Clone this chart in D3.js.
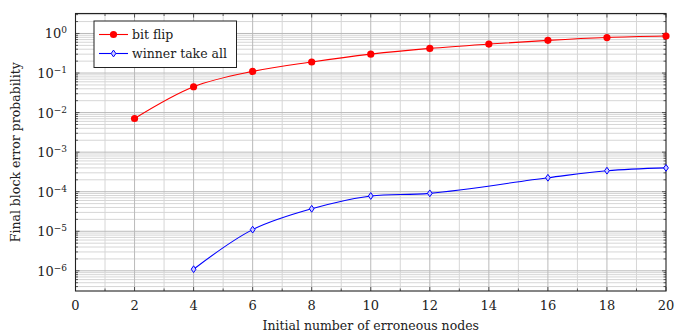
<!DOCTYPE html>
<html>
<head>
<meta charset="utf-8">
<script src="https://cdn.jsdelivr.net/npm/d3@7"></script>
<style>
  body { margin: 0; background: #fff; }
  text { font-family: "DejaVu Serif", serif; fill: #222; }
</style>
</head>
<body>
<svg id="chart" width="675" height="333"></svg>
<script>
// data
const bitFlipX = [2, 4, 6, 8, 10, 12, 14, 16, 18, 20];
const bitFlipY = [0.0071, 0.045, 0.11, 0.19, 0.30, 0.42, 0.54, 0.67, 0.79, 0.86];
const wtaX = [4, 6, 8, 10, 12, 16, 18, 20];
const wtaY = [1.1e-6, 1.1e-5, 3.7e-5, 7.8e-5, 9.1e-5, 2.25e-4, 3.4e-4, 4.0e-4];
const xTicks = [0, 2, 4, 6, 8, 10, 12, 14, 16, 18, 20];
const yExps = [0, -1, -2, -3, -4, -5, -6];
const seriesNames = ["bit flip", "winner take all"];

const margin = {left: 75.5, right: 9, top: 13.5, bottom: 42};
const W = 675, H = 333;

const svg = d3.select("#chart");
const x = d3.scaleLinear().domain([0, 20]).range([margin.left, W - margin.right]);
const y = d3.scaleLog().domain([Math.pow(10, -6.51), Math.pow(10, 0.505)]).range([H - margin.bottom, margin.top]);

// grid
const g = svg.append("g");
const minorX = d3.range(1, 20, 2);
g.selectAll(".mx").data(minorX).enter().append("line")
  .attr("x1", d => x(d)).attr("x2", d => x(d))
  .attr("y1", y.range()[0]).attr("y2", y.range()[1])
  .attr("stroke", "#d6d6d6").attr("stroke-width", 1);
const minorY = [];
for (let e = -7; e <= 0; e++) for (let m = 2; m <= 9; m++) {
  const v = m * Math.pow(10, e);
  if (v > y.domain()[0] && v < y.domain()[1]) minorY.push(v);
}
g.selectAll(".my").data(minorY).enter().append("line")
  .attr("x1", x.range()[0]).attr("x2", x.range()[1])
  .attr("y1", d => y(d)).attr("y2", d => y(d))
  .attr("stroke", "#d6d6d6").attr("stroke-width", 1);
g.selectAll(".Mx").data(xTicks.slice(1, -1)).enter().append("line")
  .attr("x1", d => x(d)).attr("x2", d => x(d))
  .attr("y1", y.range()[0]).attr("y2", y.range()[1])
  .attr("stroke", "#bababa").attr("stroke-width", 1);
g.selectAll(".My").data(yExps).enter().append("line")
  .attr("x1", x.range()[0]).attr("x2", x.range()[1])
  .attr("y1", d => y(Math.pow(10, d))).attr("y2", d => y(Math.pow(10, d)))
  .attr("stroke", "#bababa").attr("stroke-width", 1);

// inward ticks on frame
const tk = svg.append("g").attr("stroke", "#333").attr("stroke-width", 0.8);
xTicks.concat(minorX).forEach(d => {
  const l = xTicks.includes(d) ? 4 : 2.5;
  tk.append("line").attr("x1", x(d)).attr("x2", x(d)).attr("y1", y.range()[0]).attr("y2", y.range()[0] - l);
  tk.append("line").attr("x1", x(d)).attr("x2", x(d)).attr("y1", y.range()[1]).attr("y2", y.range()[1] + l);
});
minorY.concat(yExps.map(e => Math.pow(10, e))).forEach(d => {
  const l = minorY.includes(d) ? 2.5 : 4;
  tk.append("line").attr("y1", y(d)).attr("y2", y(d)).attr("x1", x.range()[0]).attr("x2", x.range()[0] + l);
  tk.append("line").attr("y1", y(d)).attr("y2", y(d)).attr("x1", x.range()[1]).attr("x2", x.range()[1] - l);
});

// frame
svg.append("rect")
  .attr("x", x.range()[0]).attr("y", y.range()[1])
  .attr("width", x.range()[1] - x.range()[0]).attr("height", y.range()[0] - y.range()[1])
  .attr("fill", "none").attr("stroke", "#222").attr("stroke-width", 1.1);

// tick labels
svg.append("g").selectAll("text").data(xTicks).enter().append("text")
  .attr("x", d => x(d)).attr("y", H - margin.bottom + 19)
  .attr("text-anchor", "middle").attr("font-size", 13).text(d => d);
const yl = svg.append("g").selectAll("text").data(yExps).enter().append("text")
  .attr("x", 67).attr("y", d => y(Math.pow(10, d)) + 5)
  .attr("text-anchor", "end").attr("font-size", 13);
yl.append("tspan").text("10");
yl.append("tspan").attr("dy", -5).attr("font-size", 9).text(d => d === 0 ? "0" : "\u2212" + (-d));

// axis labels
svg.append("text").attr("x", (x.range()[0] + x.range()[1]) / 2).attr("y", 330)
  .attr("text-anchor", "middle").attr("font-size", 12.5).text("Initial number of erroneous nodes");
svg.append("text").attr("transform", `translate(20,${(y.range()[0] + y.range()[1]) / 2}) rotate(-90)`)
  .attr("text-anchor", "middle").attr("font-size", 12.5).text("Final block error probability");

// lines
const line = d3.line().x(d => x(d[0])).y(d => y(d[1])).curve(d3.curveCatmullRom.alpha(0.5));
const redPts = d3.zip(bitFlipX, bitFlipY);
const bluePts = d3.zip(wtaX, wtaY);
svg.append("path").datum(redPts).attr("d", line).attr("fill", "none").attr("stroke", "#f00").attr("stroke-width", 1.1);
svg.append("path").datum(bluePts).attr("d", line).attr("fill", "none").attr("stroke", "#00f").attr("stroke-width", 1.1);

svg.append("g").selectAll("circle").data(redPts).enter().append("circle")
  .attr("cx", d => x(d[0])).attr("cy", d => y(d[1])).attr("r", 3.6).attr("fill", "#f00");
const diamond = (cx, cy) => `M${cx},${cy - 3.4}L${cx + 2.4},${cy}L${cx},${cy + 3.4}L${cx - 2.4},${cy}Z`;
svg.append("g").selectAll("path").data(bluePts).enter().append("path")
  .attr("d", d => diamond(x(d[0]), y(d[1])))
  .attr("fill", "#ccccff").attr("stroke", "#00f").attr("stroke-width", 1);

// legend
const lg = svg.append("g");
lg.append("rect").attr("x", 94).attr("y", 21).attr("width", 142.5).attr("height", 46.5)
  .attr("fill", "#fff").attr("stroke", "#222").attr("stroke-width", 1);
[["#f00", "c"], ["#00f", "d"]].forEach((s, i) => {
  const cy = 34.5 + i * 19;
  lg.append("line").attr("x1", 99).attr("x2", 128).attr("y1", cy).attr("y2", cy)
    .attr("stroke", s[0]).attr("stroke-width", 1.1);
  if (s[1] === "c") lg.append("circle").attr("cx", 113.5).attr("cy", cy).attr("r", 3.6).attr("fill", s[0]);
  else lg.append("path").attr("d", diamond(113.5, cy)).attr("fill", "#ccccff").attr("stroke", s[0]);
  lg.append("text").attr("x", 132).attr("y", cy + 4.5).attr("font-size", 12.5).text(seriesNames[i]);
});
</script>
</body>
</html>
